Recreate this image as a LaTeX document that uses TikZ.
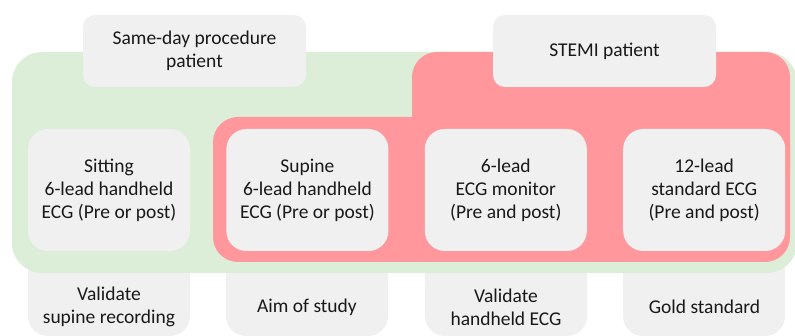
\documentclass[tikz,border=0pt]{standalone}
\usepackage{fontspec}
\setmainfont{Carlito}
\definecolor{bggreen}{RGB}{221,238,216}
\definecolor{stemired}{RGB}{255,151,156}
\definecolor{boxgray}{RGB}{240,240,240}
\definecolor{txtdark}{RGB}{25,25,25}
\usetikzlibrary{positioning}

\begin{document}
\begin{tikzpicture}[x=1pt, y=-1pt, node distance=36pt,
  card/.style={fill=boxgray, rounded corners=20pt, minimum width=162pt,
               minimum height=122pt, inner sep=0pt, align=center,
               text=txtdark, font=\fontsize{19.5}{23}\selectfont},
  head/.style={card, rounded corners=12pt, minimum width=223pt, minimum height=72pt},
  note/.style={align=center, text=txtdark, font=\fontsize{19.5}{23}\selectfont}]

  \useasboundingbox (0,0) rectangle (795,336);

  % bottom cards sit behind the groups
  \foreach \x in {28,226,425,623}
    \fill[boxgray, rounded corners=20pt] (\x,225) rectangle ++(162,111);

  % patient groups
  \fill[bggreen, rounded corners=30pt] (12,52) rectangle (797,273);
  \fill[stemired, rounded corners=25pt] (213,117) rectangle (790,262);
  \fill[stemired, rounded corners=25pt] (412,52) rectangle (790,200);

  \node[head] (sameday) at (194.5,51) {Same-day procedure\\patient};
  \node[head] (stemi) at (604.5,51) {STEMI patient};

  \node[card] (sitting) at (109,190) {Sitting\\6-lead handheld\\ECG (Pre or post)};
  \node[card, right=of sitting] (supine) {Supine\\6-lead handheld\\ECG (Pre or post)};
  \node[card, right=of supine] (monitor) {6-lead\\ECG monitor\\(Pre and post)};
  \node[card, right=of monitor] (standard) {12-lead\\standard ECG\\(Pre and post)};

  \node[note] (valsupine) at (109,307) {Validate\\supine recording};
  \node[note] (aim) at (307,307) {Aim of study};
  \node[note] (valhand) at (506,307) {Validate\\handheld ECG};
  \node[note] (gold) at (704.5,307) {Gold standard};
\end{tikzpicture}
\end{document}
